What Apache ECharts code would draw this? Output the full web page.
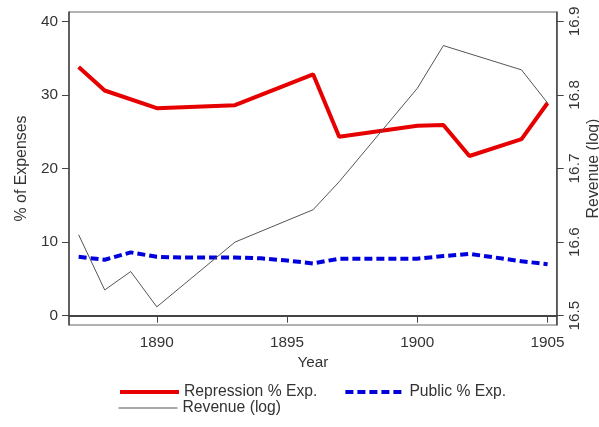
<!DOCTYPE html>
<html>
<head>
<meta charset="utf-8">
<script src="https://cdn.jsdelivr.net/npm/echarts@6/dist/echarts.min.js"></script>
<style>
  html, body { margin: 0; padding: 0; background: #fff; }
  #chart { width: 599px; height: 427px; }
</style>
</head>
<body>
<div id="chart"></div>
<script>
// Repression share of expenses (%), by year
const repressionYears = [1887, 1888, 1890, 1893, 1896, 1897, 1900, 1901, 1902, 1904, 1905];
const repressionPct   = [33.8, 30.6, 28.2, 28.6, 32.8, 24.3, 25.8, 25.9, 21.7, 24.0, 28.9];

// Public goods share of expenses (%), by year
const publicYears = [1887, 1888, 1889, 1890, 1891, 1892, 1893, 1894, 1895, 1896, 1897, 1898, 1899, 1900, 1901, 1902, 1903, 1904, 1905];
const publicPct   = [8.0, 7.6, 8.6, 8.0, 7.9, 7.9, 7.9, 7.8, 7.5, 7.1, 7.75, 7.75, 7.75, 7.75, 8.1, 8.4, 7.9, 7.4, 7.0];

// Revenue (log), by year
const revenueYears = [1887, 1888, 1889, 1890, 1893, 1896, 1897, 1900, 1901, 1904, 1905];
const revenueLog   = [16.610, 16.535, 16.560, 16.512, 16.600, 16.644, 16.682, 16.809, 16.867, 16.834, 16.789];

// Tick labels
const yearTicks = [1890, 1895, 1900, 1905];
const pctTicks = [0, 10, 20, 30, 40];
const revTicks = [16.5, 16.6, 16.7, 16.8, 16.9];

const seriesNames = ['Repression % Exp.', 'Public % Exp.', 'Revenue (log)'];

const pairs = (xs, ys) => xs.map((x, i) => [x, ys[i]]);

const textColor = '#333';
const font = 'Liberation Sans, Arial, Helvetica, sans-serif';

const chart = echarts.init(document.getElementById('chart'), null, { renderer: 'canvas' });

// Legend shows only the line sample, no marker
const legendBase = {
  itemWidth: 59, itemHeight: 16,
  itemStyle: { opacity: 0, borderWidth: 0 },
  lineStyle: { width: 'inherit', opacity: 1 },
  textStyle: { fontSize: 15.7, color: textColor, fontFamily: font }
};

chart.setOption({
  backgroundColor: '#fff',
  animation: false,
  textStyle: { fontFamily: font, color: textColor },
  grid: {
    left: 69, top: 12, right: 42.3, bottom: 102,
    containLabel: false, outerBoundsMode: 'none',
    show: true, borderColor: '#666', borderWidth: 1, backgroundColor: 'transparent'
  },
  xAxis: {
    type: 'value',
    min: 1886.63, max: 1905.35,
    name: 'Year', nameLocation: 'middle', nameGap: 24,
    nameTextStyle: { fontSize: 15.3, color: textColor, fontFamily: font },
    axisLine: { show: true, lineStyle: { color: '#444', width: 2 } },
    axisTick: { show: true, length: 7, lineStyle: { color: '#444', width: 1 }, customValues: yearTicks },
    axisLabel: {
      customValues: yearTicks, fontSize: 15.3, color: textColor, margin: 10, fontFamily: font,
      formatter: v => String(v)
    },
    splitLine: { show: false }
  },
  yAxis: [
    {
      type: 'value', position: 'left',
      min: -1.264, max: 41.264,
      name: '% of Expenses', nameLocation: 'middle', nameRotate: 90, nameGap: 39,
      nameTextStyle: { fontSize: 15.9, color: textColor, fontFamily: font },
      axisLine: { show: true, lineStyle: { color: '#444', width: 1.5 } },
      axisTick: { show: true, length: 7, lineStyle: { color: '#444', width: 1 }, customValues: pctTicks },
      axisLabel: { customValues: pctTicks, fontSize: 15.3, color: textColor, margin: 11, fontFamily: font },
      splitLine: { show: false }
    },
    {
      type: 'value', position: 'right',
      min: 16.48736, max: 16.91264,
      name: 'Revenue (log)', nameLocation: 'middle', nameRotate: 90, nameGap: 29,
      nameMoveOverlap: false,
      nameTextStyle: { fontSize: 15.9, color: textColor, fontFamily: font },
      axisLine: { show: true, lineStyle: { color: '#444', width: 1.5 } },
      axisTick: { show: true, length: 7, lineStyle: { color: '#444', width: 1 }, customValues: revTicks },
      axisLabel: {
        customValues: revTicks, fontSize: 15.3, color: textColor, margin: 11, rotate: 90,
        fontFamily: font, formatter: v => Number(v).toFixed(1)
      },
      splitLine: { show: false }
    }
  ],
  legend: [
    Object.assign({}, legendBase, {
      data: [seriesNames[0], seriesNames[1]],
      left: 113, top: 379, itemGap: 26
    }),
    Object.assign({}, legendBase, {
      data: [seriesNames[2]],
      left: 113, top: 395
    })
  ],
  series: [
    {
      name: seriesNames[0], type: 'line', yAxisIndex: 0,
      data: pairs(repressionYears, repressionPct),
      symbol: 'none', color: '#e60000',
      lineStyle: { color: '#e60000', width: 4 }
    },
    {
      name: seriesNames[1], type: 'line', yAxisIndex: 0,
      data: pairs(publicYears, publicPct),
      symbol: 'none', color: '#0000dc',
      lineStyle: { color: '#0000dc', width: 4, type: [8, 4] }
    },
    {
      name: seriesNames[2], type: 'line', yAxisIndex: 1,
      data: pairs(revenueYears, revenueLog),
      symbol: 'none', color: '#555',
      lineStyle: { color: '#555', width: 1 }
    }
  ]
});
</script>
</body>
</html>
